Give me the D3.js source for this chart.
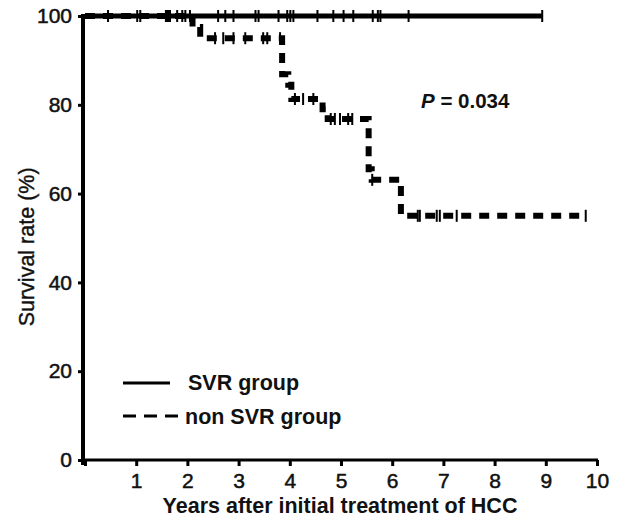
<!DOCTYPE html>
<html>
<head>
<meta charset="utf-8">
<script src="https://cdn.jsdelivr.net/npm/d3@7"></script>
<style>
  html, body { margin: 0; padding: 0; background: #fff; }
  svg { display: block; font-family: "Liberation Sans", Arial, Helvetica, sans-serif; }
</style>
</head>
<body>
<div id="chart"></div>
<script>
// x ticks (years) and y ticks (%)
const xTicks = [0, 1, 2, 3, 4, 5, 6, 7, 8, 9, 10];
const yTicks = [0, 20, 40, 60, 80, 100];

// SVR group: no events, stays at 100%
const svrTimes = [0, 8.93];
const svrSurv = [100, 100];
const svrCensor = [0.45, 1.02, 1.08, 1.58, 1.6, 1.62, 1.64, 1.66, 1.8, 1.9, 1.96, 2.05,
  2.6, 2.74, 2.9, 3.33, 3.39, 3.78, 3.95, 4.01, 4.07, 4.54, 4.85, 5.05, 5.24,
  5.62, 5.72, 5.77, 6.32, 8.93];

// non SVR group: step times and survival after each step
const nonSvrTimes = [0, 2.1, 2.25, 3.85, 3.97, 4.03, 4.64, 4.74, 5.54, 5.6, 6.17];
const nonSvrSurv = [100, 97.5, 95, 86.9, 84.5, 81.3, 79, 76.8, 65.5, 63.1, 55];
const nonSvrEnd = 9.78;
const nonSvrCensor = [2.54, 2.7, 2.9, 3.13, 3.48, 3.56, 3.81, 4.1, 4.26, 4.46,
  4.8, 4.88, 4.98, 5.14, 5.22, 5.61, 6.5, 6.54, 6.87, 6.93, 7.26, 9.78];

const width = 617, height = 520;
const ink = "#111";

const svg = d3.select("#chart").append("svg")
  .attr("width", width)
  .attr("height", height);

const x = d3.scaleLinear().domain([0, 10]).range([85, 597]);
const y = d3.scaleLinear().domain([0, 100]).range([460, 16]);

// step path from times/survival
function stepData(times, surv, end) {
  const pts = times.map((t, i) => [t, surv[i]]);
  pts.push([end, surv[surv.length - 1]]);
  return pts;
}
const line = d3.line()
  .x(d => x(d[0]))
  .y(d => y(d[1]))
  .curve(d3.curveStepAfter);

function survAt(times, surv, t) {
  let s = surv[0];
  times.forEach((tt, i) => { if (tt <= t) s = surv[i]; });
  return s;
}

// axes
const xAxis = svg.append("g")
  .attr("transform", `translate(0,${y(0)})`)
  .call(d3.axisBottom(x).tickValues(xTicks).tickSize(6).tickPadding(7)
    .tickFormat(d => d === 0 ? "" : d));
xAxis.select(".domain").remove();
xAxis.selectAll(".tick line").attr("stroke", "#000").attr("stroke-width", 3);
xAxis.selectAll(".tick text")
  .attr("font-size", 21).attr("fill", ink).attr("dy", "0.72em")
  .attr("stroke", ink).attr("stroke-width", 0.5);

const yAxis = svg.append("g")
  .attr("transform", `translate(${x(0) - 2},0)`)
  .call(d3.axisLeft(y).tickValues(yTicks).tickSize(5).tickPadding(6));
yAxis.select(".domain").remove();
yAxis.selectAll(".tick line").attr("stroke", "#000").attr("stroke-width", 3);
yAxis.selectAll(".tick text")
  .attr("font-size", 21).attr("fill", ink)
  .attr("stroke", ink).attr("stroke-width", 0.5);

// axis lines
svg.append("line")
  .attr("x1", x(0) - 4).attr("x2", x(10) + 1)
  .attr("y1", y(0)).attr("y2", y(0))
  .attr("stroke", "#000").attr("stroke-width", 3);
svg.append("line")
  .attr("x1", x(0) - 2).attr("x2", x(0) - 2)
  .attr("y1", y(100) - 2).attr("y2", y(0) + 5)
  .attr("stroke", "#000").attr("stroke-width", 4);

// non SVR curve (dashed)
svg.append("path")
  .datum(stepData(nonSvrTimes, nonSvrSurv, nonSvrEnd))
  .attr("d", line)
  .attr("fill", "none")
  .attr("stroke", "#000")
  .attr("stroke-width", 6)
  .attr("stroke-dasharray", "10,8");

svg.selectAll(".cens-non")
  .data(nonSvrCensor)
  .enter().append("line")
  .attr("class", "cens-non")
  .attr("x1", d => x(d)).attr("x2", d => x(d))
  .attr("y1", d => y(survAt(nonSvrTimes, nonSvrSurv, d)) - 6)
  .attr("y2", d => y(survAt(nonSvrTimes, nonSvrSurv, d)) + 6)
  .attr("stroke", "#000").attr("stroke-width", 2);

// SVR curve (solid)
svg.append("path")
  .datum(stepData(svrTimes, svrSurv, svrTimes[svrTimes.length - 1]))
  .attr("d", line)
  .attr("fill", "none")
  .attr("stroke", "#000")
  .attr("stroke-width", 5);

svg.selectAll(".cens-svr")
  .data(svrCensor)
  .enter().append("line")
  .attr("class", "cens-svr")
  .attr("x1", d => x(d)).attr("x2", d => x(d))
  .attr("y1", y(100) - 6).attr("y2", y(100) + 6)
  .attr("stroke", "#000").attr("stroke-width", 2);

// axis titles
svg.append("text")
  .attr("x", 340).attr("y", 513)
  .attr("text-anchor", "middle")
  .attr("font-size", 21.5).attr("font-weight", "bold").attr("fill", ink)
  .text("Years after initial treatment of HCC");

svg.append("text")
  .attr("transform", `translate(34,${y(48)}) rotate(-90)`)
  .attr("text-anchor", "middle")
  .attr("font-size", 21.5).attr("fill", ink)
  .attr("stroke", ink).attr("stroke-width", 0.4)
  .text("Survival rate (%)");

// p value
const pText = svg.append("text")
  .attr("x", 421).attr("y", 108)
  .attr("font-size", 20.5).attr("font-weight", "bold").attr("fill", ink);
pText.append("tspan").attr("font-style", "italic").text("P");
pText.append("tspan").text(" = 0.034");

// legend
svg.append("line")
  .attr("x1", 123).attr("x2", 170).attr("y1", 383).attr("y2", 383)
  .attr("stroke", "#000").attr("stroke-width", 3);
svg.append("text")
  .attr("x", 188).attr("y", 390)
  .attr("font-size", 21.5).attr("font-weight", "bold").attr("fill", ink)
  .text("SVR group");

svg.append("line")
  .attr("x1", 123).attr("x2", 180).attr("y1", 416).attr("y2", 416)
  .attr("stroke", "#000").attr("stroke-width", 3)
  .attr("stroke-dasharray", "13,8");
svg.append("text")
  .attr("x", 185).attr("y", 424)
  .attr("font-size", 21.5).attr("font-weight", "bold").attr("fill", ink)
  .text("non SVR group");
</script>
</body>
</html>
